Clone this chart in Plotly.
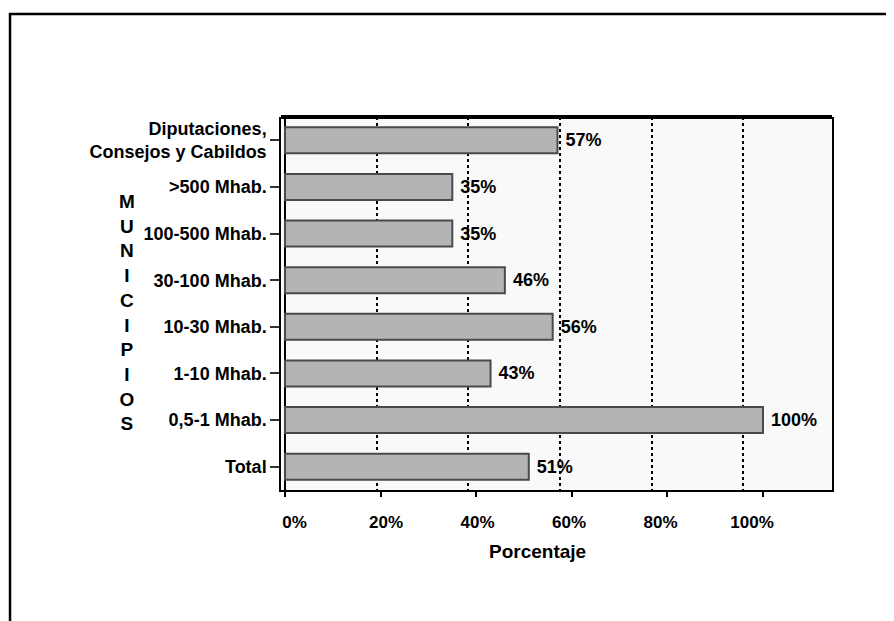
import plotly.graph_objects as go

categories = ["Diputaciones,<br>Consejos y Cabildos", ">500 Mhab.", "100-500 Mhab.",
              "30-100 Mhab.", "10-30 Mhab.", "1-10 Mhab.", "0,5-1 Mhab.", "Total"]
values = [0.57, 0.35, 0.35, 0.46, 0.56, 0.43, 1.00, 0.51]
labels = ["57%", "35%", "35%", "46%", "56%", "43%", "100%", "51%"]
tick_vals = [0, 0.2, 0.4, 0.6, 0.8, 1.0]
tick_text = ["0%", "20%", "40%", "60%", "80%", "100%"]

FONT = "Liberation Sans, Arial, sans-serif"

fig = go.Figure()
fig.add_trace(go.Bar(
    y=categories, x=values, orientation="h",
    marker=dict(color="#b4b4b4", line=dict(color="#4a4a4a", width=2)),
    text=labels, texttemplate="\u00a0%{text}", textposition="outside", cliponaxis=False,
    textfont=dict(family=FONT, size=18, color="black", weight="bold"),
    hoverinfo="skip",
))
# helper trace carrying the back-wall grid axis
fig.add_trace(go.Scatter(
    y=categories, x=values, xaxis="x2", mode="markers",
    marker=dict(opacity=0), hoverinfo="skip", showlegend=False,
))

fig.update_layout(
    width=886, height=613,
    margin=dict(l=273, r=62, t=109, b=131),
    paper_bgcolor="white", plot_bgcolor="#f9f9f9",
    showlegend=False, bargap=0.44,
    font=dict(family=FONT, color="black"),
    xaxis=dict(
        range=[-0.0084, 1.1444], tickvals=tick_vals, showticklabels=False,
        ticks="outside", ticklen=5, tickwidth=1.5, tickcolor="black",
        showgrid=False, zeroline=True, zerolinecolor="black", zerolinewidth=1.5,
        showline=True, linecolor="black", linewidth=2,
    ),
    xaxis2=dict(
        overlaying="x", anchor="y", side="bottom",
        range=[-0.0098, 1.1945], tickvals=tick_vals, ticktext=tick_text,
        showgrid=True, gridcolor="black", griddash="dot", gridwidth=1.5,
        zeroline=False, showline=False, ticks="",
        tickfont=dict(family=FONT, size=17, color="black", weight="bold"),
        ticklabelshift=9, ticklabelstandoff=20,
    ),
    yaxis=dict(
        categoryorder="array", categoryarray=categories, autorange="reversed",
        ticks="outside", ticklen=9, tickwidth=1.5, tickcolor="#333",
        tickfont=dict(family=FONT, size=18, color="black", weight="bold"),
        showline=True, linecolor="black", linewidth=1.5, mirror=True,
        showgrid=False,
    ),
    shapes=[
        dict(type="line", xref="paper", yref="paper", x0=0, x1=1, y0=1, y1=1,
             line=dict(color="black", width=4)),
        dict(type="rect", xref="paper", yref="paper",
             x0=-0.4918, x1=1.13, y0=-0.40, y1=1.2761,
             line=dict(color="black", width=2.5)),
    ],
    annotations=[
        dict(text="<br>".join("MUNICIPIOS"), xref="paper", yref="paper",
             x=-0.2795, y=0.475, xanchor="center", yanchor="middle", showarrow=False,
             font=dict(family=FONT, size=19, color="black", weight="bold")),
        dict(text="Porcentaje", xref="paper", yref="paper",
             x=0.466, y=-0.166, xanchor="center", yanchor="middle", showarrow=False,
             font=dict(family=FONT, size=19, color="black", weight="bold")),
    ],
)

fig.write_html("out.html")
